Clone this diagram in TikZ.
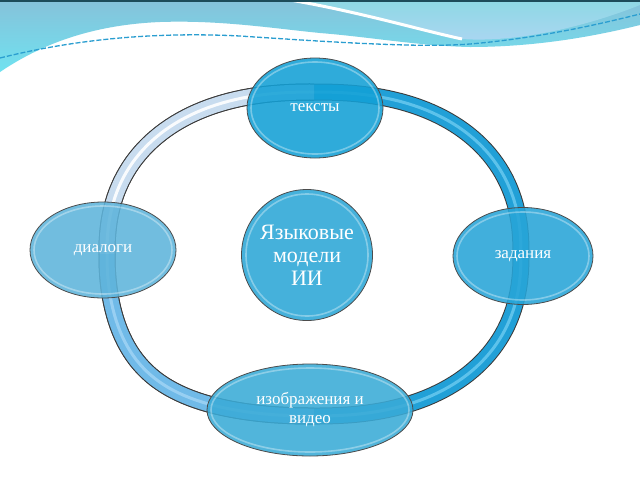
\documentclass[tikz,border=0pt]{standalone}
\usepackage{fontspec}
\setmainfont{Liberation Serif}
\usetikzlibrary{shapes.geometric}
\definecolor{bandtop}{HTML}{86C2DA}
\definecolor{bandbot}{HTML}{6FE2F0}
\definecolor{lighttop}{HTML}{8ED8E4}
\definecolor{lightbot}{HTML}{ABD6F2}
\definecolor{topline}{HTML}{1D4C5A}
\definecolor{dashcol}{HTML}{2A9ED0}
\definecolor{ringedge}{HTML}{3A3A3A}
\definecolor{ringright}{HTML}{21A0D7}
\definecolor{ringrighthl}{HTML}{6CCBF0}
\definecolor{ringpale}{HTML}{C8DCEF}
\definecolor{ringmid}{HTML}{70BAE8}
\definecolor{ringmidhl}{HTML}{9DD2F4}
\definecolor{ctop}{HTML}{13A0D6}
\definecolor{cleft}{HTML}{5EB4DB}
\definecolor{cright}{HTML}{27A5D8}
\definecolor{cbottom}{HTML}{3AABD7}
\definecolor{ccenter}{HTML}{2CA7D7}
\begin{document}
\begin{tikzpicture}[x=1pt,y=-1pt,
  declare function={ex(\t)=0.86-0.1*max(0,-sin(2*\t))*(sin(\t)>0);},
  bubble/.style={ellipse, draw=black!70, line width=0.8pt, fill opacity=0.88,
    text opacity=1, text=white, inner sep=0pt, align=center,
    font=\fontsize{17}{19}\selectfont},
  rim/.style={white, opacity=0.35, line width=1.6pt},
  ringpath/.style={line join=round, insert path={plot[domain=0.5:359.5, samples=180]
    ({314+207*sign(cos(\x))*abs(cos(\x))^ex(\x)},
     {254+162*sign(sin(\x))*abs(sin(\x))^ex(\x)}) -- cycle}}
]
\useasboundingbox (0,0) rectangle (640,480);
\fill[white] (0,0) rectangle (640,480);
% header decoration
\shade[top color=bandtop, bottom color=bandbot]
  (0,0) -- (640,0) -- (640,25) .. controls (600,35) and (540,47) .. (470,47)
  .. controls (420,46) and (370,37) .. (320,33)
  .. controls (270,28) and (220,20) .. (160,22)
  .. controls (90,25) and (40,45) .. (0,72) -- cycle;
\shade[top color=lighttop, bottom color=lightbot]
  (295,0) .. controls (360,12) and (420,30) .. (462,39)
  .. controls (520,43) and (590,25) .. (640,5) -- (640,0) -- cycle;
\draw[white, line width=3pt] (290,0) .. controls (360,12) and (420,30) .. (462,39);
\draw[dashcol, line width=1.3pt, dash pattern=on 5pt off 2pt]
  (0,58) .. controls (80,38) and (160,32) .. (240,36)
  .. controls (330,42) and (420,48) .. (470,44)
  .. controls (540,38) and (600,24) .. (640,14);
\fill[topline] (0,0) rectangle (640,1.5);
% ring
\draw[ringedge, line width=17pt, ringpath];
\draw[ringright, line width=15pt, ringpath];
\draw[ringrighthl, line width=3pt, opacity=0.8, ringpath];
\begin{scope}
  \clip (314,254) -- (0,254) -- (0,0) -- (314,0) -- cycle;
  \draw[ringedge, line width=17pt, ringpath];
  \draw[ringpale, line width=15pt, ringpath];
  \draw[white, line width=3pt, opacity=0.9, ringpath];
\end{scope}
\begin{scope}
  \clip (314,254) -- (0,254) -- (0,480) -- (314,480) -- cycle;
  \draw[ringedge, line width=17pt, ringpath];
  \draw[ringmid, line width=15pt, ringpath];
  \draw[ringmidhl, line width=3pt, opacity=0.9, ringpath];
\end{scope}
% nodes
\node[bubble, fill=ctop, minimum width=136pt, minimum height=100pt] (texts) at (315,108) {тексты};
\node[bubble, fill=cleft, minimum width=146pt, minimum height=96pt] (dialogs) at (103,250) {диалоги};
\node[bubble, fill=cright, minimum width=140pt, minimum height=97pt] (tasks) at (523,256) {задания};
\node[bubble, fill=cbottom, minimum width=206pt, minimum height=92pt] (media) at (310,410) {изображения и\\видео};
\node[bubble, circle, fill=ccenter, minimum size=131pt, font=\fontsize{22}{23}\selectfont] (core) at (307,255) {Языковые\\модели\\ИИ};
% glossy rims
\draw[rim] (texts.center) ellipse [x radius=64, y radius=46];
\draw[rim] (dialogs.center) ellipse [x radius=69, y radius=44];
\draw[rim] (tasks.center) ellipse [x radius=66, y radius=44];
\draw[rim] (media.center) ellipse [x radius=99, y radius=42];
\draw[rim] (core.center) circle [radius=61];
\end{tikzpicture}
\end{document}
